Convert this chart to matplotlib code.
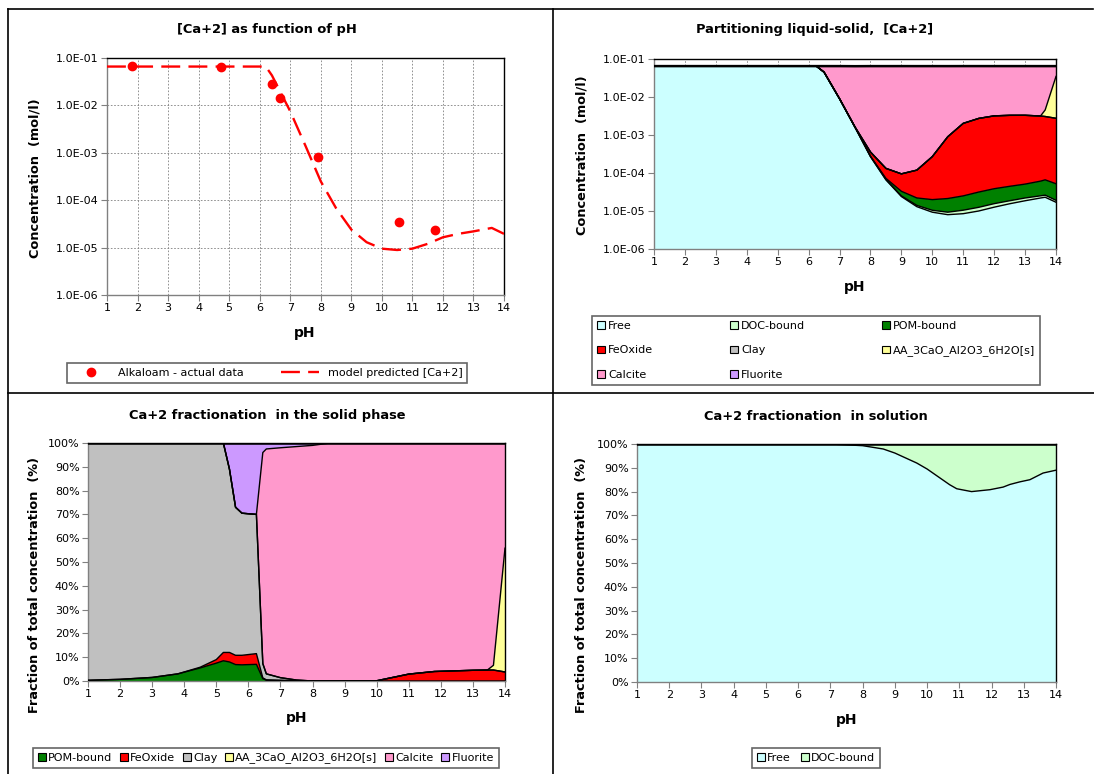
import numpy as np
import matplotlib.pyplot as plt
from matplotlib.lines import Line2D
from matplotlib.patches import Patch
from matplotlib.ticker import FuncFormatter, MultipleLocator, FixedLocator

W, H = 1094, 774

# ---------------- data ----------------
# panel 1 : [Ca+2] as function of pH
ph_meas = [1.82, 4.74, 6.40, 6.67, 7.92, 10.57, 11.73]
ca_meas = [0.067, 0.066, 0.028, 0.0145, 8.3e-4, 3.4e-5, 2.4e-5]

ph_model = [1, 6.2, 6.4, 7, 7.5, 8, 8.5, 9, 9.5, 10, 10.5, 11, 11.5, 12, 12.5, 13, 13.6, 14]
ca_model = [0.066, 0.066, 0.043, 7.5e-3, 1.4e-3, 2.5e-4, 6.8e-5, 2.4e-5, 1.3e-5, 9.5e-6,
            8.9e-6, 9.5e-6, 1.2e-5, 1.65e-5, 1.95e-5, 2.2e-5, 2.6e-5, 1.95e-5]

# panel 2 : partitioning liquid-solid (mol/l)
ph_part = [1, 2, 3, 4, 5, 6, 6.25, 6.5, 7, 7.5, 8, 8.5, 9, 9.5, 10, 10.5, 11, 11.5, 12, 12.5, 13, 13.5, 13.65, 14]
free_c = [0.065, 0.065, 0.065, 0.065, 0.065, 0.065, 0.065, 0.045, 9e-3, 1.6e-3, 2.7e-4, 6.6e-5, 2.4e-5, 1.3e-5,
          9.3e-6, 8.0e-6, 8.5e-6, 1.0e-5, 1.26e-5, 1.55e-5, 1.86e-5, 2.2e-5, 2.3e-5, 1.7e-5]
doc_c = [0, 0, 0, 0, 0, 0, 0, 0, 0, 0, 2e-6, 1.3e-6, 1e-6, 1.05e-6,
         1.15e-6, 1.3e-6, 2e-6, 2.5e-6, 3e-6, 3.1e-6, 3.4e-6, 3.1e-6, 3.1e-6, 2.1e-6]
pom_c = [0, 0, 0, 0, 0, 0, 0, 0, 0, 3e-6, 5e-6, 5e-6, 8e-6, 8e-6,
         9.5e-6, 1.2e-5, 1.45e-5, 1.9e-5, 2.3e-5, 2.6e-5, 2.9e-5, 3.6e-5, 4e-5, 3.3e-5]
feox_c = [0, 0, 0, 0, 0, 0, 0, 0, 0, 2e-5, 8e-5, 6e-5, 6.2e-5, 9.7e-5,
          2.5e-4, 8.8e-4, 2e-3, 2.7e-3, 3.15e-3, 3.25e-3, 3.25e-3, 3.1e-3, 3.0e-3, 2.7e-3]
clay_c = [0] * 24
aa_c = [0] * 22 + [1.5e-3, 0.032]
calc_c = [0, 0, 0, 0, 0, 0, 0, 0.02, 0.056, 0.063, 0.0646, 0.0648, 0.0649, 0.0648,
          0.0647, 0.064, 0.063, 0.0623, 0.0618, 0.0617, 0.0617, 0.0618, 0.0604, 0.0302]
fluor_c = [0] * 24

# panel 3 : fractionation in the solid phase (%)
ph_solid = [1, 2, 3, 3.8, 4.5, 5.0, 5.22, 5.41, 5.6, 5.8, 6.25, 6.45, 6.56, 7.0, 7.5, 8.0, 8.55,
            9, 10, 11, 11.8, 13, 13.45, 13.64, 14]
pom_s = [0.3, 0.7, 1.5, 3.0, 5.5, 7.5, 8.5, 8.0, 6.9, 6.8, 7.0, 1.0, 0.3, 0.2, 0.1, 0, 0,
         0, 0, 0, 0, 0, 0, 0, 0]
feox_s = [0, 0, 0, 0, 0.3, 1.5, 3.5, 4.0, 3.9, 4.0, 4.5, 0.3, 0.2, 0.1, 0, 0, 0,
          0, 0.1, 2.9, 4.0, 4.5, 4.6, 4.6, 3.8]
clay_s = [99.7, 99.3, 98.5, 97.0, 94.2, 91.0, 88.0, 77.0, 62.2, 59.7, 58.5, 6.0, 2.5, 1.1, 0.3, 0, 0,
          0, 0, 0, 0, 0, 0, 0, 0]
aa_s = [0] * 23 + [2.0, 52.0]
calc_s = [0, 0, 0, 0, 0, 0, 0, 0, 0, 0, 0, 88.7, 94.5, 96.6, 98.1, 99.0, 100,
          100, 99.9, 97.1, 96.0, 95.5, 95.4, 93.4, 44.2]
fluor_s = [0, 0, 0, 0, 0, 0, 0, 11.0, 27.0, 29.5, 30.0, 4.0, 2.5, 2.0, 1.5, 1.0, 0,
           0, 0, 0, 0, 0, 0, 0, 0]

# panel 4 : fractionation in solution (%)
ph_sol = [1, 7, 8, 8.64, 9, 9.68, 10, 10.7, 10.92, 11.38, 11.95, 12.36, 12.57, 12.88, 13.19, 13.6, 14]
free_s = [100, 100, 99.3, 97.9, 96.2, 92, 89.5, 82.9, 81.2, 80, 80.8, 81.9, 83, 84.1, 85, 87.8, 89]
doc_s = [0, 0, 0.7, 2.1, 3.8, 8, 10.5, 17.1, 18.8, 20, 19.2, 18.1, 17, 15.9, 15, 12.2, 11]

C_FREE, C_DOC, C_POM, C_FE = '#CCFFFF', '#CCFFCC', '#008000', '#FF0000'
C_CLAY, C_AA, C_CALC, C_FLUOR = '#C0C0C0', '#FFFF99', '#FF99CC', '#CC99FF'

plt.rcParams['font.family'] = 'DejaVu Sans'

TITLE_FS = 9.4
YLAB_FS = 9.3
PH_FS = 10
TICK_FS = 8
LEG_FS = 8


def fx(x):
    return x / W


def fy(y):
    return 1 - y / H


def axes_px(fig, x0, y0, x1, y1):
    return fig.add_axes([fx(x0), fy(y1), (x1 - x0) / W, (y1 - y0) / H])


def style_axes(ax):
    for s in ['top', 'right']:
        ax.spines[s].set_color('black')
    for s in ['left', 'bottom']:
        ax.spines[s].set_color('#808080')
    for s in ax.spines.values():
        s.set_linewidth(1.0)
    ax.tick_params(direction='out', length=4, width=0.8, color='#808080', labelsize=TICK_FS, pad=2)
    ax.set_xlim(1, 14)
    ax.xaxis.set_major_locator(MultipleLocator(1))
    ax.grid(True, color='#808080', lw=0.6, ls=(0, (2, 2)), zorder=0)
    ax.set_axisbelow(True)


def stack_fill(ax, x, layers, colors, base):
    tops = np.cumsum(np.array(layers, dtype=float), axis=0)
    lower = np.full(len(x), base)
    for i, (top, c) in enumerate(zip(tops, colors)):
        ax.fill_between(x, lower, top, facecolor=c, edgecolor='none', zorder=2)
        lw = 1.8 if i == len(tops) - 1 else 1.0
        ax.plot(x, top, color='black', lw=lw, zorder=3)
        lower = top


def legend(fig, handles, labels, anchor, loc, **kw):
    lg = fig.legend(handles, labels, loc=loc, bbox_to_anchor=anchor, frameon=True,
                    fancybox=False, fontsize=LEG_FS, borderaxespad=0, **kw)
    lg.get_frame().set_edgecolor('#404040')
    lg.get_frame().set_linewidth(1.2)
    return lg


def sq(c):
    return Patch(facecolor=c, edgecolor='black', linewidth=0.8)


fig = plt.figure(figsize=(W / 100, H / 100), dpi=100)

# panel frame lines
for (x0, y0, x1, y1) in [(8, 9, 1093, 9), (8, 9, 8, 774), (553, 9, 553, 774), (8, 393, 1094, 393)]:
    fig.add_artist(Line2D([fx(x0), fx(x1)], [fy(y0), fy(y1)], color='black', lw=1.2))

log_fmt = FuncFormatter(lambda v, p: f"{v:.1E}")
pct_fmt = FuncFormatter(lambda v, p: f"{v:.0f}%")

# ---- panel 1 ----
ax1 = axes_px(fig, 107, 58, 504, 295)
ax1.set_yscale('log')
ax1.set_ylim(1e-6, 1e-1)
style_axes(ax1)
ax1.yaxis.set_major_locator(FixedLocator([1e-6, 1e-5, 1e-4, 1e-3, 1e-2, 1e-1]))
ax1.yaxis.set_minor_locator(FixedLocator([]))
ax1.yaxis.set_major_formatter(log_fmt)
ax1.plot(ph_model, ca_model, color='red', lw=1.7, dashes=(8, 3.5), zorder=3)
ax1.plot(ph_meas, ca_meas, 'o', color='red', ms=6, zorder=4)

fig.text(fx(267), fy(30), '[Ca+2] as function of pH', ha='center', va='center', fontsize=TITLE_FS, weight='bold')
fig.text(fx(35), fy(178), 'Concentration  (mol/l)', ha='center', va='center', rotation=90, fontsize=YLAB_FS, weight='bold')
fig.text(fx(305), fy(333), 'pH', ha='center', va='center', fontsize=PH_FS, weight='bold')
legend(fig, [Line2D([], [], marker='o', color='red', ls='none', ms=6),
             Line2D([], [], color='red', lw=1.7, dashes=(8, 3.5))],
       ['Alkaloam - actual data', 'model predicted [Ca+2]'],
       (fx(267), fy(373)), 'center', ncol=2, handlelength=3.4, columnspacing=3.3, borderpad=0.45)

# ---- panel 2 ----
ax2 = axes_px(fig, 654, 59, 1056, 249)
ax2.set_yscale('log')
ax2.set_ylim(1e-6, 1e-1)
style_axes(ax2)
ax2.yaxis.set_major_locator(FixedLocator([1e-6, 1e-5, 1e-4, 1e-3, 1e-2, 1e-1]))
ax2.yaxis.set_minor_locator(FixedLocator([]))
ax2.yaxis.set_major_formatter(log_fmt)
stack_fill(ax2, ph_part, [free_c, doc_c, pom_c, feox_c, clay_c, aa_c, calc_c, fluor_c],
           [C_FREE, C_DOC, C_POM, C_FE, C_CLAY, C_AA, C_CALC, C_FLUOR], 1e-6)

fig.text(fx(815), fy(30), 'Partitioning liquid-solid,  [Ca+2]', ha='center', va='center', fontsize=TITLE_FS, weight='bold')
fig.text(fx(582), fy(155), 'Concentration  (mol/l)', ha='center', va='center', rotation=90, fontsize=YLAB_FS, weight='bold')
fig.text(fx(855), fy(287), 'pH', ha='center', va='center', fontsize=PH_FS, weight='bold')
legend(fig, [sq(C_FREE), sq(C_FE), sq(C_CALC), sq(C_DOC), sq(C_CLAY), sq(C_FLUOR), sq(C_POM), sq(C_AA)],
       ['Free', 'FeOxide', 'Calcite', 'DOC-bound', 'Clay', 'Fluorite', 'POM-bound', 'AA_3CaO_Al2O3_6H2O[s]'],
       (fx(592), fy(316)), 'upper left', ncol=3, handlelength=0.7, handleheight=0.7, handletextpad=0.3,
       columnspacing=6.9, labelspacing=1.3, borderpad=0.45)

# ---- panel 3 ----
ax3 = axes_px(fig, 88, 443, 505, 681)
ax3.set_ylim(0, 100)
style_axes(ax3)
ax3.yaxis.set_major_locator(MultipleLocator(10))
ax3.yaxis.set_major_formatter(pct_fmt)
stack_fill(ax3, ph_solid, [pom_s, feox_s, clay_s, aa_s, calc_s, fluor_s],
           [C_POM, C_FE, C_CLAY, C_AA, C_CALC, C_FLUOR], 0)

fig.text(fx(267), fy(415), 'Ca+2 fractionation  in the solid phase', ha='center', va='center', fontsize=TITLE_FS, weight='bold')
fig.text(fx(35), fy(585), 'Fraction of total concentration  (%)', ha='center', va='center', rotation=90, fontsize=YLAB_FS, weight='bold')
fig.text(fx(297), fy(718), 'pH', ha='center', va='center', fontsize=PH_FS, weight='bold')
legend(fig, [sq(C_POM), sq(C_FE), sq(C_CLAY), sq(C_AA), sq(C_CALC), sq(C_FLUOR)],
       ['POM-bound', 'FeOxide', 'Clay', 'AA_3CaO_Al2O3_6H2O[s]', 'Calcite', 'Fluorite'],
       (fx(266), fy(758)), 'center', ncol=6, handlelength=0.7, handleheight=0.7, handletextpad=0.2,
       columnspacing=0.7, borderpad=0.45)

# ---- panel 4 ----
ax4 = axes_px(fig, 637, 444, 1056, 682)
ax4.set_ylim(0, 100)
style_axes(ax4)
ax4.yaxis.set_major_locator(MultipleLocator(10))
ax4.yaxis.set_major_formatter(pct_fmt)
stack_fill(ax4, ph_sol, [free_s, doc_s], [C_FREE, C_DOC], 0)

fig.text(fx(816), fy(417), 'Ca+2 fractionation  in solution', ha='center', va='center', fontsize=TITLE_FS, weight='bold')
fig.text(fx(582), fy(585), 'Fraction of total concentration  (%)', ha='center', va='center', rotation=90, fontsize=YLAB_FS, weight='bold')
fig.text(fx(847), fy(720), 'pH', ha='center', va='center', fontsize=PH_FS, weight='bold')
legend(fig, [sq(C_FREE), sq(C_DOC)], ['Free', 'DOC-bound'],
       (fx(816), fy(758)), 'center', ncol=2, handlelength=0.7, handleheight=0.7, handletextpad=0.2,
       columnspacing=0.9, borderpad=0.45)

fig.savefig('out.png', dpi=100)
